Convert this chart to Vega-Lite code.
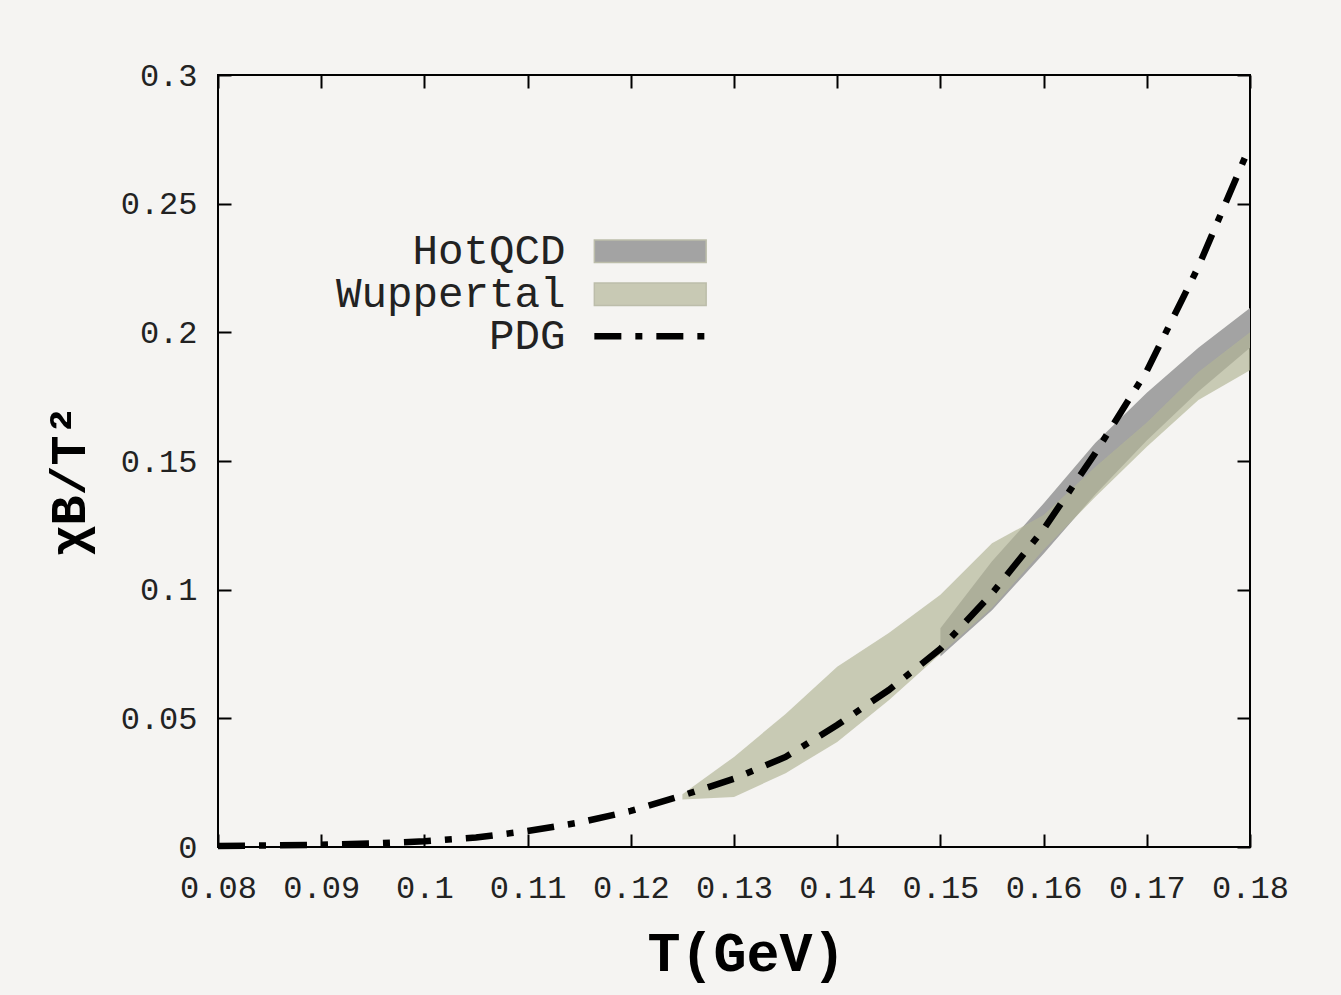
{
  "$schema": "https://vega.github.io/schema/vega-lite/v6.json",
  "width": 1032,
  "height": 772,
  "autosize": {"type": "none"},
  "padding": {"left": 218, "top": 75, "right": 91, "bottom": 148},
  "background": "#f5f4f2",
  "datasets": {
    "bands": [
      {"T": 0.15, "series": "HotQCD", "lo": 0.074, "hi": 0.085},
      {"T": 0.155, "series": "HotQCD", "lo": 0.092, "hi": 0.111},
      {"T": 0.16, "series": "HotQCD", "lo": 0.114, "hi": 0.1335},
      {"T": 0.165, "series": "HotQCD", "lo": 0.137, "hi": 0.157},
      {"T": 0.17, "series": "HotQCD", "lo": 0.158, "hi": 0.1765},
      {"T": 0.175, "series": "HotQCD", "lo": 0.177, "hi": 0.194},
      {"T": 0.18, "series": "HotQCD", "lo": 0.194, "hi": 0.2095},
      {"T": 0.125, "series": "Wuppertal", "lo": 0.0185, "hi": 0.0205},
      {"T": 0.13, "series": "Wuppertal", "lo": 0.0194, "hi": 0.035},
      {"T": 0.135, "series": "Wuppertal", "lo": 0.0287, "hi": 0.0517},
      {"T": 0.14, "series": "Wuppertal", "lo": 0.0408, "hi": 0.07},
      {"T": 0.145, "series": "Wuppertal", "lo": 0.057, "hi": 0.0832},
      {"T": 0.15, "series": "Wuppertal", "lo": 0.075, "hi": 0.098},
      {"T": 0.155, "series": "Wuppertal", "lo": 0.093, "hi": 0.118},
      {"T": 0.16, "series": "Wuppertal", "lo": 0.1155, "hi": 0.129},
      {"T": 0.165, "series": "Wuppertal", "lo": 0.136, "hi": 0.1477},
      {"T": 0.17, "series": "Wuppertal", "lo": 0.1555, "hi": 0.165},
      {"T": 0.175, "series": "Wuppertal", "lo": 0.1737, "hi": 0.1846},
      {"T": 0.18, "series": "Wuppertal", "lo": 0.1853, "hi": 0.2}
    ],
    "pdg": [
      {"T": 0.08, "series": "PDG", "chi": 0.0004},
      {"T": 0.085, "series": "PDG", "chi": 0.0006},
      {"T": 0.09, "series": "PDG", "chi": 0.0009},
      {"T": 0.095, "series": "PDG", "chi": 0.0014},
      {"T": 0.1, "series": "PDG", "chi": 0.0022},
      {"T": 0.105, "series": "PDG", "chi": 0.0037},
      {"T": 0.11, "series": "PDG", "chi": 0.0062},
      {"T": 0.115, "series": "PDG", "chi": 0.0095},
      {"T": 0.12, "series": "PDG", "chi": 0.014},
      {"T": 0.125, "series": "PDG", "chi": 0.02},
      {"T": 0.13, "series": "PDG", "chi": 0.0265},
      {"T": 0.135, "series": "PDG", "chi": 0.035},
      {"T": 0.14, "series": "PDG", "chi": 0.0474},
      {"T": 0.145, "series": "PDG", "chi": 0.061},
      {"T": 0.15, "series": "PDG", "chi": 0.077},
      {"T": 0.155, "series": "PDG", "chi": 0.0985},
      {"T": 0.16, "series": "PDG", "chi": 0.1235},
      {"T": 0.165, "series": "PDG", "chi": 0.153},
      {"T": 0.17, "series": "PDG", "chi": 0.185},
      {"T": 0.175, "series": "PDG", "chi": 0.2255},
      {"T": 0.18, "series": "PDG", "chi": 0.2725}
    ]
  },
  "config": {
    "view": {"stroke": "#000", "strokeWidth": 2, "fill": "#f5f4f2"},
    "axis": {
      "domain": false,
      "grid": false,
      "tickColor": "#000",
      "tickWidth": 2,
      "tickSize": -13,
      "labelFont": "Liberation Mono",
      "labelFontSize": 32,
      "labelColor": "#222",
      "labelFlush": false,
      "labelOverlap": false,
      "titleFont": "Liberation Mono",
      "titleFontWeight": "bold",
      "titleColor": "#000"
    },
    "legend": {
      "title": null,
      "orient": "none",
      "symbolType": "M-10,-2H10V2H-10Z",
      "symbolSize": 125,
      "labelAlign": "right",
      "labelOffset": -106,
      "labelLimit": 0,
      "labelFont": "Liberation Mono",
      "labelFontSize": 42.5,
      "labelColor": "#222",
      "rowPadding": 0
    }
  },
  "layer": [
    {
      "data": {"name": "bands"},
      "transform": [{"filter": "datum.series === 'HotQCD'"}],
      "mark": {"type": "area", "opacity": 1},
      "encoding": {
        "x": {"field": "T", "type": "quantitative", "scale": {"domain": [0.08, 0.18], "nice": false, "zero": false},
          "axis": {"orient": "bottom", "values": [0.08, 0.09, 0.1, 0.11, 0.12, 0.13, 0.14, 0.15, 0.16, 0.17, 0.18], "format": "~g", "labelPadding": 38, "title": "T(GeV)", "titleFontSize": 55, "titlePadding": 24, "titleX": 528, "titleAlign": "center"}},
        "y": {"field": "lo", "type": "quantitative", "scale": {"domain": [0, 0.3], "nice": false},
          "axis": {"orient": "left", "values": [0, 0.05, 0.1, 0.15, 0.2, 0.25, 0.3], "format": "~g", "labelPadding": 34, "title": "χB/T²", "titleFontSize": 50, "titlePadding": 26, "titleY": 405, "titleAlign": "center"}},
        "y2": {"field": "hi"},
        "fill": {"field": "series", "type": "nominal",
          "scale": {"domain": ["HotQCD", "Wuppertal"], "range": ["#a3a3a3", "#c8c9b4"]},
          "legend": {
            "legendX": 411, "legendY": 155,
            "symbolStrokeColor": "#bcbdaa",
            "symbolStrokeWidth": 1.5,
            "symbolOpacity": 1
          }}
      }
    },
    {
      "data": {"name": "bands"},
      "transform": [{"filter": "datum.series === 'Wuppertal'"}],
      "mark": {"type": "area", "opacity": 0.68, "fill": "#b3b597"},
      "encoding": {
        "x": {"field": "T", "type": "quantitative", "axis": null},
        "y": {"field": "lo", "type": "quantitative", "axis": null},
        "y2": {"field": "hi"}
      }
    },
    {
      "data": {"name": "pdg"},
      "mark": {"type": "line", "strokeWidth": 6.5, "strokeDash": [27, 14, 7, 14], "strokeCap": "butt"},
      "encoding": {
        "x": {"field": "T", "type": "quantitative",
          "axis": {"orient": "top", "values": [0.08, 0.09, 0.1, 0.11, 0.12, 0.13, 0.14, 0.15, 0.16, 0.17, 0.18], "labels": false, "title": null}},
        "y": {"field": "chi", "type": "quantitative",
          "axis": {"orient": "right", "values": [0, 0.05, 0.1, 0.15, 0.2, 0.25, 0.3], "labels": false, "title": null}},
        "stroke": {"field": "series", "type": "nominal",
          "scale": {"domain": ["PDG"], "range": ["#000000"]},
          "legend": {
            "legendX": 411, "legendY": 240,
            "symbolType": "M-10,0H10",
            "symbolDash": [27, 14, 7, 14],
            "symbolStrokeWidth": 6.5,
            "symbolFillColor": "transparent"
          }}
      }
    }
  ],
  "resolve": {"axis": {"x": "independent", "y": "independent"}}
}
